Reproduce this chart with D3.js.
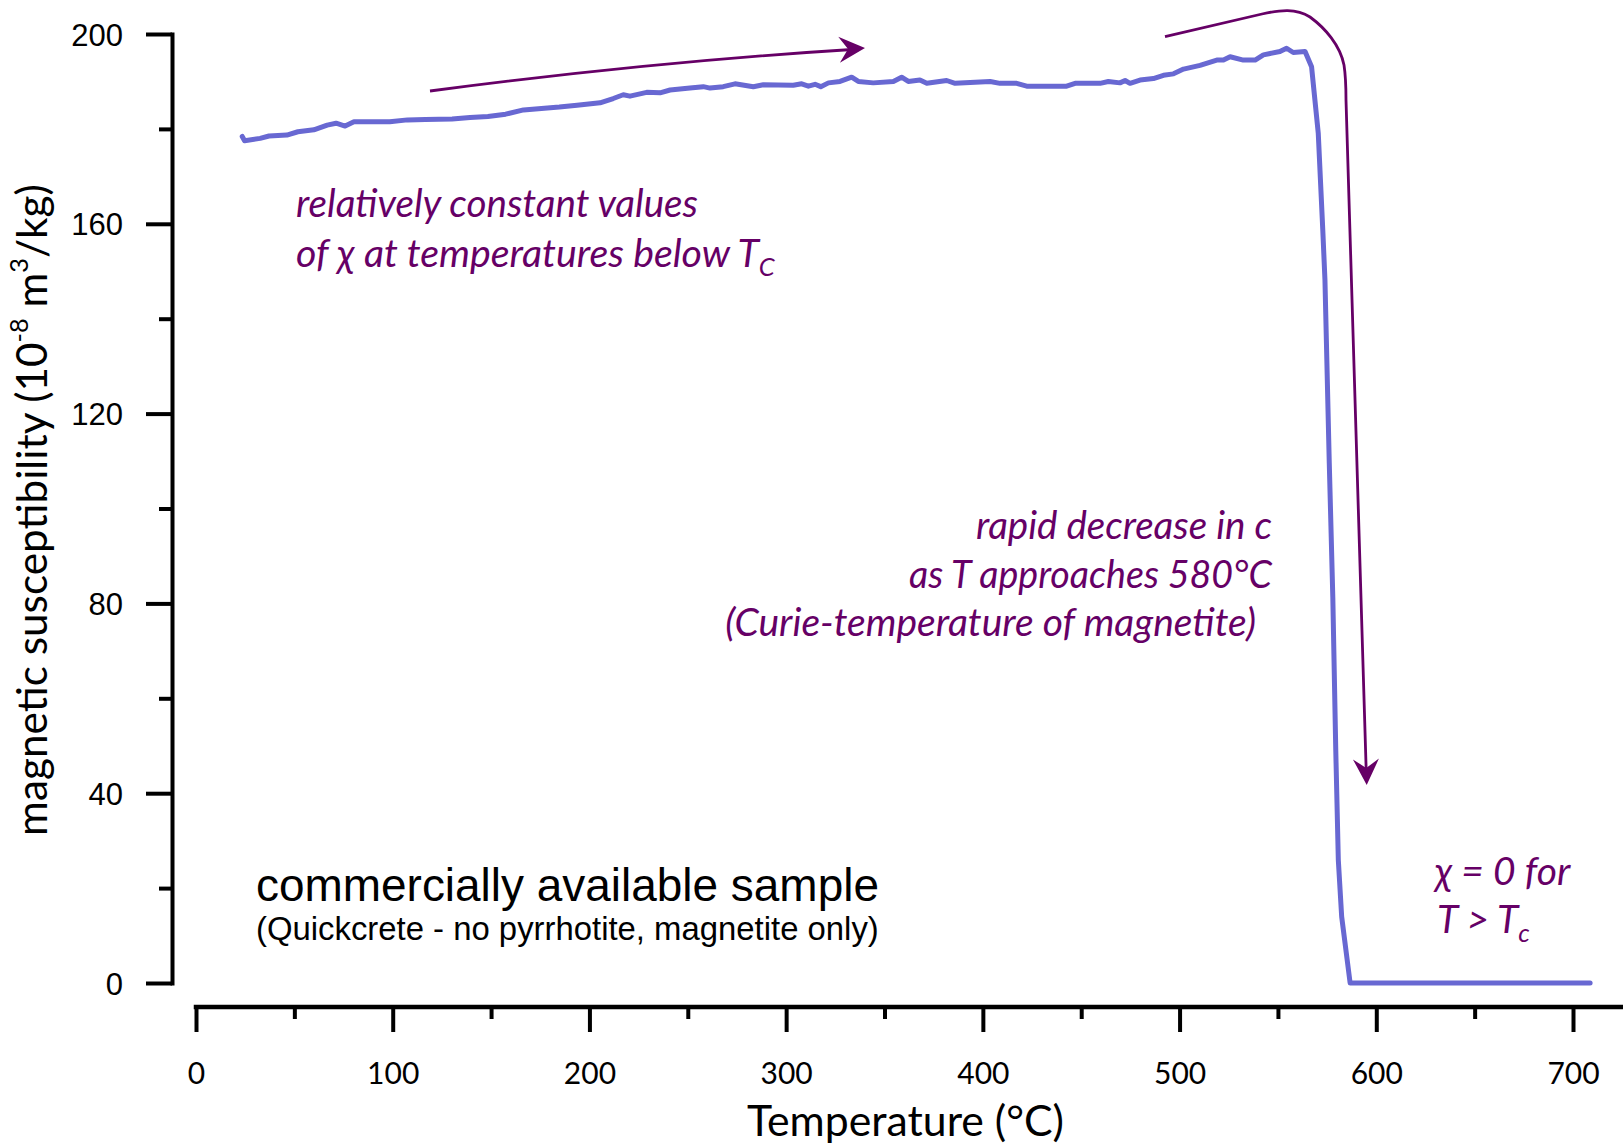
<!DOCTYPE html>
<html>
<head>
<meta charset="utf-8">
<script src="https://cdn.jsdelivr.net/npm/d3@7"></script>
<style>
  html, body { margin: 0; padding: 0; background: #fff; }
  svg { display: block; }
</style>
</head>
<body>
<svg id="chart" width="1623" height="1146"></svg>
<script>
// Heating curve of a magnetite-bearing concrete sample: temperature (°C) vs. susceptibility
const temperature = [
  23.5, 24.7, 32.6, 37.1, 46.2, 51.8, 59.9, 66.7, 71.2, 75.8, 80.3, 89.4, 98.5, 107.5,
  116.6, 130.2, 139.3, 148.4, 157.4, 166.5, 175.6, 184.7, 193.7, 205.4, 212.1, 217.2,
  220.6, 229.1, 235.9, 241.0, 251.1, 257.9, 261.3, 268.0, 274.0, 283.3, 288.4, 303.6,
  307.9, 311.3, 314.7, 317.6, 321.5, 327.4, 333.3, 336.7, 344.3, 354.5, 358.7, 362.1,
  368.0, 371.5, 381.6, 385.9, 403.7, 408.7, 417.2, 422.3, 442.6, 446.9, 459.6, 463.8,
  469.7, 472.3, 474.8, 479.9, 486.7, 491.8, 496.9, 502.0, 510.4, 518.9, 522.3, 525.7,
  532.4, 538.4, 542.6, 551.0, 554.4, 557.8, 563.8, 567.1, 570.5, 572.8, 573.9, 576.1,
  577.9, 579.4, 580.7, 582.4, 586.7, 708.7
];
const susceptibility = [
  178.4, 177.5, 178.0, 178.5, 178.7, 179.4, 179.8, 180.8, 181.2, 180.6, 181.5, 181.5, 181.5, 181.9,
  182.0, 182.1, 182.4, 182.6, 183.1, 184.0, 184.3, 184.6, 185.0, 185.5, 186.4, 187.2,
  186.9, 187.7, 187.6, 188.2, 188.6, 188.9, 188.6, 188.9, 189.5, 188.9, 189.3, 189.2,
  189.5, 189.0, 189.4, 188.9, 189.7, 190.0, 190.9, 190.0, 189.7, 190.0, 190.9, 190.0,
  190.3, 189.6, 190.2, 189.6, 190.0, 189.6, 189.6, 189.0, 189.0, 189.6, 189.6, 190.0,
  189.7, 190.2, 189.6, 190.3, 190.6, 191.3, 191.6, 192.6, 193.4, 194.5, 194.5, 195.2,
  194.5, 194.5, 195.6, 196.3, 197.0, 196.1, 196.3, 193.1, 179.1, 158.7, 148.2, 109.6,
  81.3, 49.1, 25.9, 14.0, 0, 0
];

const xMajorTicks = [0, 100, 200, 300, 400, 500, 600, 700];
const xMinorTicks = [50, 150, 250, 350, 450, 550, 650];
const yMajorTicks = [0, 40, 80, 120, 160, 200];
const yMinorTicks = [20, 60, 100, 140, 180];

const xTitle = "Temperature (°C)";
const noteTopLines = ["relatively constant values", "of χ at temperatures below T"];
const noteDropLines = ["rapid decrease in c", "as T approaches 580°C", "(Curie-temperature of magnetite)"];
const sampleLines = ["commercially available sample", "(Quickcrete - no pyrrhotite, magnetite only)"];

const W = 1623, H = 1146;
const ACCENT = "#660066";
const LINE = "#6868d2";
const CALIBRI = "Lato, 'Open Sans', sans-serif";
const ARIAL = "'Liberation Sans', Arial, sans-serif";

// scale font-size so the text's rendered width hits the target
function fitWidth(sel, target) {
  const w = sel.node().getBBox().width;
  const fs = parseFloat(sel.attr("font-size"));
  const nfs = fs * target / w;
  sel.attr("font-size", nfs);
  return nfs;
}

function arrowHead(g, tipX, tipY, dirX, dirY, len, half, notch) {
  const n = Math.hypot(dirX, dirY);
  const ux = dirX / n, uy = dirY / n;
  const px = -uy, py = ux;
  const bx = tipX - ux * len, by = tipY - uy * len;
  const nx = tipX - ux * (len - notch), ny = tipY - uy * (len - notch);
  g.append("path")
    .attr("d", `M${tipX},${tipY}L${bx + px * half},${by + py * half}L${nx},${ny}L${bx - px * half},${by - py * half}Z`)
    .attr("fill", ACCENT);
}

function draw() {
  const svg = d3.select("#chart");
  const x = d3.scaleLinear().domain([0, 700]).range([196, 1573]);
  const y = d3.scaleLinear().domain([0, 200]).range([983, 34]);

  // ---- y axis ----
  const gy = svg.append("g").attr("transform", "translate(172,0)");
  gy.call(d3.axisLeft(y).tickValues(yMajorTicks).tickSize(26).tickSizeOuter(0).tickPadding(23));
  gy.append("g").call(d3.axisLeft(y).tickValues(yMinorTicks).tickSize(13).tickFormat(""))
    .select(".domain").remove();
  gy.selectAll("path.domain").attr("stroke", "#000").attr("stroke-width", 4).attr("stroke-linecap", "square");
  gy.selectAll(".tick line").attr("stroke", "#000").attr("stroke-width", 4);
  gy.selectAll(".tick text")
    .attr("font-family", ARIAL).attr("font-size", 31).attr("fill", "#000").attr("dy", "0.36em");

  // ---- x axis ----
  const gx = svg.append("g").attr("transform", "translate(0,1007)");
  gx.call(d3.axisBottom(x).tickValues(xMajorTicks).tickSize(25).tickSizeOuter(0).tickPadding(31));
  gx.append("g").call(d3.axisBottom(x).tickValues(xMinorTicks).tickSize(12).tickFormat(""))
    .select(".domain").remove();
  gx.select("path.domain").attr("d", `M${x(0)},0H${W}`)
    .attr("stroke", "#000").attr("stroke-width", 4.5).attr("stroke-linecap", "square");
  gx.selectAll(".tick line").attr("stroke", "#000").attr("stroke-width", 4);
  gx.selectAll(".tick text")
    .attr("font-family", CALIBRI).attr("font-size", 30).attr("fill", "#000");

  // ---- axis titles ----
  const xt = svg.append("text")
    .attr("x", 905.5).attr("y", 1136).attr("text-anchor", "middle")
    .attr("font-family", CALIBRI).attr("font-size", 40).attr("fill", "#000")
    .text(xTitle);
  fitWidth(xt, 317);

  const yt = svg.append("text")
    .attr("transform", "translate(47,510) rotate(-90)")
    .attr("text-anchor", "middle")
    .attr("font-family", CALIBRI).attr("font-size", 34).attr("fill", "#000");
  yt.append("tspan").text("magnetic susceptibility (10");
  yt.append("tspan").attr("font-size", "0.6em").attr("dy", "-0.75em").text("-8");
  yt.append("tspan").attr("dy", "0.45em").text(" m");
  yt.append("tspan").attr("font-size", "0.6em").attr("dy", "-0.75em").text("3");
  yt.append("tspan").attr("dy", "0.45em").text("/kg)");
  fitWidth(yt, 652);

  // ---- data ----
  const pts = temperature.map((t, i) => [t, susceptibility[i]]);
  svg.append("path")
    .datum(pts)
    .attr("d", d3.line().x(d => x(d[0])).y(d => y(d[1])))
    .attr("fill", "none").attr("stroke", LINE).attr("stroke-width", 5)
    .attr("stroke-linejoin", "round").attr("stroke-linecap", "round");

  // ---- annotation arrows ----
  const ga = svg.append("g");
  ga.append("path")
    .attr("d", "M430,91 Q650,62 852,49.5")
    .attr("fill", "none").attr("stroke", ACCENT).attr("stroke-width", 2.8);
  arrowHead(ga, 865, 48, 215, -14, 26, 13, 9);

  ga.append("path")
    .attr("d", "M1165,36.7 L1262,14 C1280,10 1296,8 1310,17 C1325,28 1340,45 1344,65 C1346,78 1346,90 1346,100 L1366.3,774")
    .attr("fill", "none").attr("stroke", ACCENT).attr("stroke-width", 2.8);
  arrowHead(ga, 1366.7, 785, 0.6, 20, 26, 13, 9);

  // ---- annotation notes ----
  const top2 = svg.append("text")
    .attr("x", 296).attr("y", 267)
    .attr("font-family", CALIBRI).attr("font-style", "italic").attr("font-size", 30).attr("fill", ACCENT);
  top2.append("tspan").text(noteTopLines[1]);
  top2.append("tspan").attr("font-size", "0.65em").attr("dy", "0.35em").text("C");
  const fsTop = fitWidth(top2, 480);
  const top1 = svg.append("text")
    .attr("x", 296).attr("y", 217)
    .attr("font-family", CALIBRI).attr("font-style", "italic").attr("font-size", fsTop).attr("fill", ACCENT)
    .text(noteTopLines[0]);
  top1.attr("textLength", 402).attr("lengthAdjust", "spacingAndGlyphs");

  const dropY = [539, 588, 636];
  const dropX = [1272, 1272, 1256];
  const dropW = [296, 363, 531];
  const dropTexts = noteDropLines.map((s, i) => svg.append("text")
    .attr("x", dropX[i]).attr("y", dropY[i]).attr("text-anchor", "end")
    .attr("font-family", CALIBRI).attr("font-style", "italic").attr("font-size", 30).attr("fill", ACCENT)
    .text(s));
  const fsDrop = fitWidth(dropTexts[2], 531);
  dropTexts.forEach((t, i) => {
    t.attr("font-size", fsDrop);
    if (i < 2) t.attr("textLength", dropW[i]).attr("lengthAdjust", "spacingAndGlyphs");
  });

  svg.append("text")
    .attr("x", 1435).attr("y", 885)
    .attr("font-family", CALIBRI).attr("font-style", "italic").attr("font-size", fsDrop).attr("fill", ACCENT)
    .text("χ = 0 for");
  const z2 = svg.append("text")
    .attr("x", 1437).attr("y", 933)
    .attr("font-family", CALIBRI).attr("font-style", "italic").attr("font-size", fsDrop).attr("fill", ACCENT);
  z2.append("tspan").text("T > T");
  z2.append("tspan").attr("font-size", "0.65em").attr("dy", "0.35em").text("c");

  // ---- sample caption ----
  const s1 = svg.append("text")
    .attr("x", 256).attr("y", 901)
    .attr("font-family", ARIAL).attr("font-size", 44).attr("fill", "#000")
    .text(sampleLines[0]);
  fitWidth(s1, 623);
  const s2 = svg.append("text")
    .attr("x", 256).attr("y", 940)
    .attr("font-family", ARIAL).attr("font-size", 32).attr("fill", "#000")
    .text(sampleLines[1]);
  fitWidth(s2, 623);
}

document.fonts.ready.then(draw);
</script>
</body>
</html>
